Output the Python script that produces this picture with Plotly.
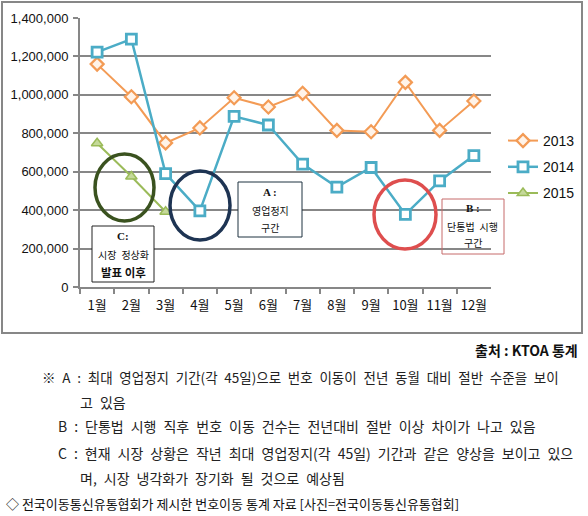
import plotly.graph_objects as go

W, H = 588, 516

months = ["1월", "2월", "3월", "4월", "5월", "6월", "7월", "8월", "9월", "10월", "11월", "12월"]
v2013 = [1160000, 990000, 750000, 828000, 985000, 937000, 1008000, 815000, 808000, 1065000, 815000, 968000]
v2014 = [1222000, 1290000, 590000, 396000, 888000, 843000, 640000, 520000, 622000, 378000, 552000, 684000]
v2015 = [748000, 575000, 392000]
series_names = ["2013", "2014", "2015"]

notes = [
    "※ A : 최대 영업정지 기간(각 45일)으로 번호 이동이 전년 동월 대비 절반 수준을 보이",
    "고 있음",
    "B : 단통법 시행 직후 번호 이동 건수는 전년대비 절반 이상 차이가 나고 있음",
    "C : 현재 시장 상황은 작년 최대 영업정지(각 45일) 기간과 같은 양상을 보이고 있으",
    "며, 시장 냉각화가 장기화 될 것으로 예상됨",
]
source_text = "출처 : KTOA 통계"
caption = "◇ 전국이동통신유통협회가 제시한 번호이동 통계 자료 [사진=전국이동통신유통협회]"


def px(x):
    return x / W


def py(y):
    return 1 - y / H


KR = "Noto Sans CJK KR, sans-serif"
GRID = "#878787"
ORANGE = "#F39B55"
TEAL = "#4BACC6"
GREEN = "#9BBB59"

fig = go.Figure()
fig.add_trace(go.Scatter(
    x=months, y=v2013, name=series_names[0], legendgroup="a", mode="lines+markers",
    line=dict(color=ORANGE, width=2),
    marker=dict(symbol="diamond", size=10, color="#FFF3E8", line=dict(color=ORANGE, width=2.2)),
))
fig.add_trace(go.Scatter(
    x=months, y=v2014, name=series_names[1], legendgroup="b", mode="lines+markers",
    line=dict(color=TEAL, width=2.5),
    marker=dict(symbol="square", size=10, color="#FFFFFF", line=dict(color=TEAL, width=2.8)),
))
fig.add_trace(go.Scatter(
    x=months[:len(v2015)], y=v2015, name=series_names[2], legendgroup="c", mode="lines+markers",
    line=dict(color=GREEN, width=2),
    marker=dict(symbol="triangle-up", size=10, color="#C5D99A", line=dict(color=GREEN, width=1.5)),
))

shapes = []
# outer chart border
shapes.append(dict(type="rect", xref="paper", yref="paper", x0=px(2), x1=px(582), y0=py(333), y1=py(2),
                   line=dict(color=GRID, width=2), layer="below"))
# ellipses
for (x0, x1, y0, y1, col) in [(95, 154, 154, 221, "#3A521F"),
                              (170, 230, 171, 240, "#1E3453"),
                              (374, 436, 180, 249, "#DE4E4E")]:
    shapes.append(dict(type="circle", xref="paper", yref="paper", x0=px(x0), x1=px(x1),
                       y0=py(y1), y1=py(y0), line=dict(color=col, width=3.5), layer="above"))
# annotation boxes
shapes.append(dict(type="rect", xref="paper", yref="paper", x0=px(92), x1=px(154), y0=py(282), y1=py(226),
                   line=dict(color="#222222", width=1), fillcolor="white", layer="above"))
shapes.append(dict(type="rect", xref="paper", yref="paper", x0=px(238), x1=px(302), y0=py(237), y1=py(182),
                   line=dict(color="#1F3340", width=1), fillcolor="white", layer="above"))
shapes.append(dict(type="rect", xref="paper", yref="paper", x0=px(442), x1=px(504), y0=py(254), y1=py(199),
                   line=dict(color="#C66B6B", width=1), layer="above"))

annotations = []


def txt(text, x, y, size=10, family=KR, xanchor="center", bold=False, color="#111111", wide=False):
    if wide:
        text = text.replace(" ", "\u2002")
    annotations.append(dict(text=("<b>%s</b>" % text) if bold else text, x=px(x), y=py(y),
                            xref="paper", yref="paper", xanchor=xanchor, yanchor="middle",
                            showarrow=False, font=dict(size=size, family=family, color=color)))


SERIF = "Liberation Serif, serif"
txt("C:", 123, 236, size=11, family=SERIF, bold=True)
txt("시장 정상화", 123, 254, size=10, wide=True)
txt("발표 이후", 123, 272, size=11.5, bold=True)
txt("A :", 270, 192, size=11, family=SERIF, bold=True)
txt("영업정지", 270, 210, size=10)
txt("구간", 270, 227, size=10)
txt("B :", 473, 208, size=11, family=SERIF, bold=True)
txt("단통법 시행", 473, 226, size=10, wide=True)
txt("구간", 473, 243, size=10)

txt(source_text, 580, 350, size=14, xanchor="right", bold=True)
note_pos = [(40, 377), (78, 402), (56, 426), (56, 453), (78, 478)]
note_size = [13.5, 14, 14, 14, 14]
for t, (x, y), s in zip(notes, note_pos, note_size):
    txt(t, x, y, size=s, xanchor="left", color="#222222", wide=True)
txt(caption, 4, 503, size=13, xanchor="left", color="#111111")

fig.update_layout(
    width=W, height=H, autosize=False,
    margin=dict(l=0, r=0, t=0, b=0, autoexpand=False),
    paper_bgcolor="white", plot_bgcolor="white",
    shapes=shapes, annotations=annotations,
    showlegend=True,
    legend=dict(x=px(503), y=py(125), xanchor="left", yanchor="top", tracegroupgap=5,
                font=dict(family="Liberation Sans, sans-serif", size=14, color="#111111"),
                bgcolor="rgba(0,0,0,0)", itemwidth=30),
    xaxis=dict(domain=[px(80), px(491)], type="category", range=[-0.5, 11.5],
               tickson="boundaries", ticks="outside", ticklen=5, tickwidth=2, tickcolor=GRID,
               showline=True, linecolor=GRID, linewidth=2, showgrid=False, tickangle=0,
               automargin=False, ticklabelstandoff=5,
               tickfont=dict(family=KR, size=13, color="#111111"), fixedrange=True),
    yaxis=dict(domain=[py(287), py(18)], range=[0, 1400000], dtick=200000, tickformat=",",
               ticks="outside", ticklen=5, tickwidth=2, tickcolor=GRID,
               showline=True, linecolor=GRID, linewidth=2,
               showgrid=True, gridcolor=GRID, gridwidth=2, zeroline=False,
               ticklabelstandoff=2, automargin=False,
               tickfont=dict(family="Liberation Sans, sans-serif", size=13, color="#111111"), fixedrange=True),
)

fig.write_html("out.html", config={"displayModeBar": False},
               post_script="document.body.style.margin='0';document.body.style.padding='0';"
                           "document.documentElement.style.overflow='hidden';")
